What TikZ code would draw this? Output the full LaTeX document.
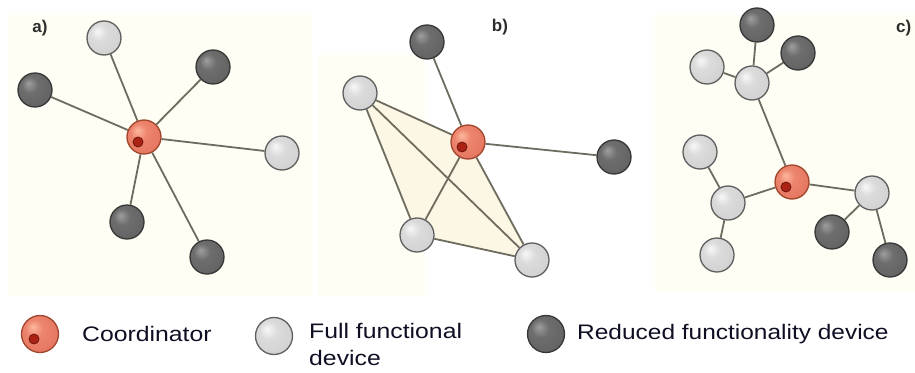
\documentclass[tikz,border=0pt]{standalone}
\usepackage{fontspec}
\setmainfont{Liberation Sans}
\usetikzlibrary{backgrounds}
\pgfdeclarelayer{back}
\pgfsetlayers{back,background,main}
\definecolor{edgec}{RGB}{110,108,95}
\definecolor{bgy}{RGB}{255,254,244}
\definecolor{polyy}{RGB}{252,247,228}
\definecolor{lborder}{RGB}{95,95,95}
\definecolor{dborder}{RGB}{55,55,55}
\definecolor{cborder}{RGB}{160,70,45}
\definecolor{spotred}{RGB}{170,35,20}
\definecolor{spotedge}{RGB}{110,20,10}
\definecolor{labc}{RGB}{45,45,45}
\definecolor{txtc}{RGB}{15,15,35}
\pgfdeclareradialshading{lightball}{\pgfpoint{-10bp}{10bp}}{rgb(0bp)=(0.97,0.97,0.97); rgb(12bp)=(0.86,0.86,0.86); rgb(50bp)=(0.78,0.78,0.78)}
\pgfdeclareradialshading{darkball}{\pgfpoint{-10bp}{10bp}}{rgb(0bp)=(0.62,0.62,0.62); rgb(12bp)=(0.43,0.43,0.43); rgb(50bp)=(0.34,0.34,0.34)}
\pgfdeclareradialshading{coordball}{\pgfpoint{-10bp}{10bp}}{rgb(0bp)=(0.99,0.72,0.62); rgb(12bp)=(0.93,0.52,0.43); rgb(50bp)=(0.86,0.40,0.32)}
\tikzset{
  ballbase/.style={circle, minimum size=34pt, inner sep=0pt, line width=1.3pt},
  lball/.style={ballbase, shading=lightball, draw=lborder},
  dball/.style={ballbase, shading=darkball, draw=dborder},
  cball/.style={ballbase, shading=coordball, draw=cborder,
    path picture={\filldraw[fill=spotred, draw=spotedge, line width=0.8pt]
      ([shift={(-6pt,-5pt)}]path picture bounding box.center) circle (5pt);}},
  link/.style={draw=edgec, line width=1.8pt},
  panellab/.style={font=\bfseries\fontsize{17}{20}\selectfont, text=labc, inner sep=0pt},
  legtxt/.style={font=\fontsize{21}{27}\selectfont, text=txtc, inner sep=0pt, anchor=west, align=left}
}
\begin{document}
\begin{tikzpicture}[x=1pt,y=-1pt]
\useasboundingbox (0,0) rectangle (915,372);
\begin{pgfonlayer}{back}
\fill[white] (0,0) rectangle (915,372);
\fill[bgy] (8,15) rectangle (312,296);
\fill[bgy] (318,55) rectangle (425,296);
\fill[bgy] (655,15) rectangle (915,292);
\end{pgfonlayer}

% panel labels
\node[panellab] (la) at (40,28) {a)};
\node[panellab] (lb) at (500,27) {b)};
\node[panellab, anchor=west] (lc) at (896,28) {c)};

% ---- panel a: star
\node[cball] (ac) at (144,137) {};
\node[lball] (a1) at (104,38) {};
\node[dball] (a2) at (213,67) {};
\node[dball] (a3) at (35,90) {};
\node[lball] (a4) at (282,153) {};
\node[dball] (a5) at (127,222) {};
\node[dball] (a6) at (207,257) {};
\begin{pgfonlayer}{background}
\foreach \n in {a1,a2,a3,a4,a5,a6} \draw[link] (ac) -- (\n);
\end{pgfonlayer}

% ---- panel b: mesh
\node[cball] (bc) at (468,142) {};
\node[dball] (b1) at (427,42) {};
\node[lball] (b2) at (360,93) {};
\node[dball] (b3) at (614,157) {};
\node[lball] (b4) at (417,235) {};
\node[lball] (b5) at (532,260) {};
\begin{pgfonlayer}{back}
\fill[polyy] (b2.center) -- (bc.center) -- (b5.center) -- (b4.center) -- cycle;
\end{pgfonlayer}
\begin{pgfonlayer}{background}
\draw[link] (bc) -- (b1);
\draw[link] (bc) -- (b2);
\draw[link] (bc) -- (b3);
\draw[link] (bc) -- (b4);
\draw[link] (bc) -- (b5);
\draw[link] (b2) -- (b4);
\draw[link] (b2) -- (b5);
\draw[link] (b4) -- (b5);
\end{pgfonlayer}

% ---- panel c: cluster tree
\node[cball] (cc) at (792,182) {};
\node[lball] (ct) at (752,83) {};
\node[dball] (ct1) at (757,25) {};
\node[dball] (ct2) at (798,53) {};
\node[lball] (ct3) at (707,67) {};
\node[lball] (cl) at (728,203) {};
\node[lball] (cl1) at (700,152) {};
\node[lball] (cl2) at (717,255) {};
\node[lball] (cr) at (872,193) {};
\node[dball] (cr1) at (832,232) {};
\node[dball] (cr2) at (890,260) {};
\begin{pgfonlayer}{background}
\draw[link] (cc) -- (ct);
\draw[link] (ct) -- (ct1);
\draw[link] (ct) -- (ct2);
\draw[link] (ct) -- (ct3);
\draw[link] (cc) -- (cl);
\draw[link] (cl) -- (cl1);
\draw[link] (cl) -- (cl2);
\draw[link] (cc) -- (cr);
\draw[link] (cr) -- (cr1);
\draw[link] (cr) -- (cr2);
\end{pgfonlayer}

% ---- legend
\node[cball, minimum size=37pt] (kc) at (40,334) {};
\node[legtxt] (tc) at (82,334) {\scalebox{1.18}[1]{Coordinator}};
\node[lball, minimum size=37pt] (kl) at (274,336) {};
\node[legtxt, anchor=north west] (tl) at (309,323) {\scalebox{1.18}[1]{Full functional}\\\scalebox{1.18}[1]{device}};
\node[dball, minimum size=37pt] (kd) at (546,334) {};
\node[legtxt] (td) at (577,334) {\scalebox{1.165}[1]{Reduced functionality device}};
\end{tikzpicture}
\end{document}
